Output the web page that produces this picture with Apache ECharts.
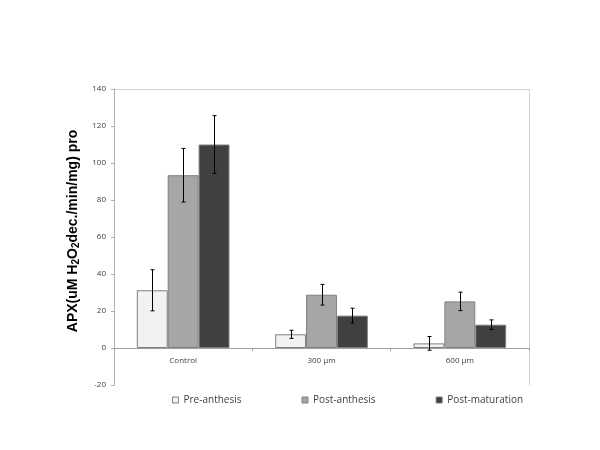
<!DOCTYPE html>
<html><head><meta charset="utf-8">
<script src="https://cdn.jsdelivr.net/npm/echarts@6/dist/echarts.min.js"></script>
<style>html,body{margin:0;padding:0;background:#fff}#c{width:600px;height:450px}</style>
</head><body><div id="c"></div>
<script>
const categories = ['Control', '300 µm', '600 µm'];
const seriesNames = ['Pre-anthesis', 'Post-anthesis', 'Post-maturation'];
const preAnthesis = [31.2, 7.4, 2.5];
const postAnthesis = [93.4, 28.8, 25.2];
const postMaturation = [110, 17.5, 12.6];
const preErr = [11.1, 2.2, 3.7];
const postAnthErr = [14.5, 5.6, 5.0];
const postMatErr = [15.6, 4.0, 2.6];
const yTicks = {min: -20, max: 140, interval: 20};

const values = [preAnthesis, postAnthesis, postMaturation];
const errs = [preErr, postAnthErr, postMatErr];
const colors = ['#f2f2f2', '#a6a6a6', '#404040'];
const catGap = 0.33;

const chart = echarts.init(document.getElementById('c'));
const barSeries = values.map((v, i) => ({
  name: seriesNames[i], type: 'bar', data: v,
  barGap: '0%', barCategoryGap: (catGap*100)+'%',
  itemStyle: {color: colors[i], borderColor: '#7f7f7f', borderWidth: 1}
}));
const errSeries = values.map((v, si) => ({
  type: 'custom', name: 'err' + si, silent: true, z: 5,
  data: v.map((val, k) => [k, val - errs[si][k], val + errs[si][k]]),
  renderItem: function (params, api) {
    const k = api.value(0);
    const lo = api.coord([k, api.value(1)]);
    const hi = api.coord([k, api.value(2)]);
    const bw = api.size([1, 0])[0];
    const barW = bw * (1 - catGap) / 3;
    const x = Math.round(lo[0] - bw * (1 - catGap) / 2 + (si + 0.5) * barW) + 0.5;
    const c = 2;
    const st = {stroke: '#000', lineWidth: 1};
    return {type: 'group', children: [
      {type: 'line', shape: {x1: x, y1: lo[1], x2: x, y2: hi[1]}, style: st},
      {type: 'line', shape: {x1: x - c, y1: lo[1], x2: x + c, y2: lo[1]}, style: st},
      {type: 'line', shape: {x1: x - c, y1: hi[1], x2: x + c, y2: hi[1]}, style: st}
    ]};
  }
}));

chart.setOption({
  animation: false,
  textStyle: {fontFamily: 'Open Sans'},
  grid: {left: 114, right: 71, top: 89, bottom: 65},
  graphic: [
    {type: 'line', shape: {x1: 114, y1: 89.5, x2: 530, y2: 89.5}, style: {stroke: '#c9d5dc', lineWidth: 1}},
    {type: 'line', shape: {x1: 529.5, y1: 89, x2: 529.5, y2: 385}, style: {stroke: '#c9d5dc', lineWidth: 1}}
  ],
  legend: {
    data: seriesNames, left: 167, top: 390, itemGap: 60,
    itemWidth: 6, itemHeight: 6, icon: 'rect', itemStyle: {borderColor: '#7f7f7f', borderWidth: 1},
    textStyle: {fontSize: 10, color: '#404040', fontFamily: 'Open Sans'}
  },
  xAxis: {
    type: 'category', data: categories,
    offset: -37,
    axisLine: {onZero: false, lineStyle: {color: '#a0a0a0'}},
    axisTick: {show: true, length: 3, lineStyle: {color: '#a0a0a0'}},
    axisLabel: {fontSize: 8, color: '#404040', margin: 9}
  },
  yAxis: {
    type: 'value', min: yTicks.min, max: yTicks.max, interval: yTicks.interval,
    splitLine: {show: false},
    axisLine: {show: true, lineStyle: {color: '#b0b0b0'}},
    axisTick: {show: true, length: 3, lineStyle: {color: '#b0b0b0'}},
    axisLabel: {fontSize: 8, color: '#404040', margin: 8},
    name: 'APX(uM H{s|2}O{s|2}dec./min/mg) pro',
    nameLocation: 'middle', nameGap: 29,
    nameTextStyle: {
      fontSize: 14, fontWeight: 'bold', color: '#000', fontFamily: 'Liberation Sans',
      padding: [0, 0, 0, 12],
      rich: {s: {fontSize: 10, fontWeight: 'bold', color: '#000', fontFamily: 'Liberation Sans', verticalAlign: 'bottom', padding: [7, 0, 0, 0]}}
    }
  },
  series: barSeries.concat(errSeries)
});
</script></body></html>
